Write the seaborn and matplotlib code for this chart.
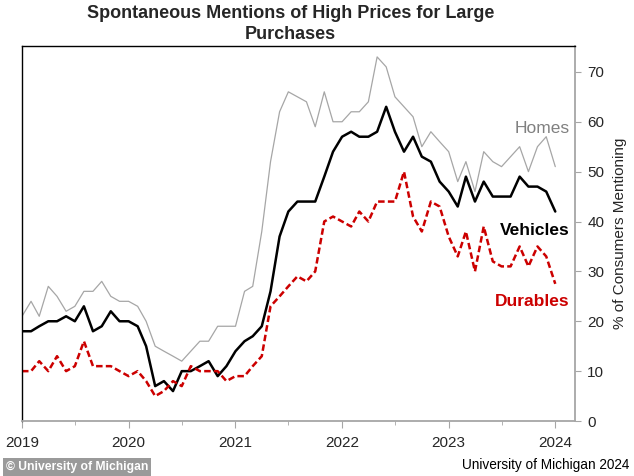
import pandas as pd
import matplotlib
matplotlib.use("Agg")
import matplotlib.pyplot as plt
import matplotlib.dates as mdates
import seaborn as sns

# === Data: monthly, Jan 2019 - Jan 2024 (% of consumers mentioning) ===
homes = [21, 24, 21, 27, 25, 22, 23, 26, 26, 28, 25, 24,
         24, 23, 20, 15, 14, 13, 12, 14, 16, 16, 19, 19,
         19, 26, 27, 38, 52, 62, 66, 65, 64, 59, 66, 60,
         60, 62, 62, 64, 73, 71, 65, 63, 61, 55, 58, 56,
         54, 48, 52, 46, 54, 52, 51, 53, 55, 50, 55, 57, 51]
vehicles = [18, 18, 19, 20, 20, 21, 20, 23, 18, 19, 22, 20,
            20, 19, 15, 7, 8, 6, 10, 10, 11, 12, 9, 11,
            14, 16, 17, 19, 26, 37, 42, 44, 44, 44, 49, 54,
            57, 58, 57, 57, 58, 63, 58, 54, 57, 53, 52, 48,
            46, 43, 49, 44, 48, 45, 45, 45, 49, 47, 47, 46, 42]
durables = [10, 10, 12, 10, 13, 10, 11, 16, 11, 11, 11, 10,
            9, 10, 8, 5, 6, 8, 7, 11, 10, 10, 10, 8,
            9, 9, 11, 13, 23, 25, 27, 29, 28, 30, 40, 41,
            40, 39, 42, 40, 44, 44, 44, 50, 41, 38, 44, 43,
            37, 33, 38, 30, 39, 32, 31, 31, 35, 31, 35, 33, 27.5]
months = pd.date_range("2019-01-01", periods=len(homes), freq="MS")
y_ticks = [0, 10, 20, 30, 40, 50, 60, 70]

df = pd.DataFrame({"month": months, "Homes": homes,
                   "Vehicles": vehicles, "Durables": durables})

# === Style ===
sns.set_style("white")
plt.rcParams["font.family"] = ["Liberation Sans", "DejaVu Sans"]

fig = plt.figure(figsize=(6.34, 4.76), dpi=100)
ax = fig.add_axes([0.0347, 0.1155, 0.872, 0.788])

sns.lineplot(data=df, x="month", y="Homes", ax=ax, color="#a6a6a6", lw=0.9)
sns.lineplot(data=df, x="month", y="Vehicles", ax=ax, color="black", lw=1.8)
sns.lineplot(data=df, x="month", y="Durables", ax=ax, color="#cc0000", lw=1.8,
             dashes=False, linestyle=(0, (2.6, 1.3)))

# === Axes ===
ax.set_xlim(pd.Timestamp("2019-01-01"), pd.Timestamp("2024-03-08"))
ax.set_ylim(0, 75.2)
ax.set_yticks(y_ticks)
ax.yaxis.tick_right()
ax.yaxis.set_label_position("right")
ax.set_ylabel("% of Consumers Mentioning", fontsize=11, labelpad=6)
ax.set_xlabel("")

ax.xaxis.set_major_locator(mdates.YearLocator())
ax.xaxis.set_major_formatter(mdates.DateFormatter("%Y"))
ax.xaxis.set_minor_locator(mdates.MonthLocator(bymonth=7))

ax.tick_params(axis="y", which="both", direction="out", length=4,
               color="#a6a6a6", labelsize=11, pad=5, right=True, left=False)
ax.tick_params(axis="x", which="major", direction="out", length=5,
               color="#a6a6a6", labelsize=11, pad=6, bottom=True)
ax.tick_params(axis="x", which="minor", direction="out", length=3,
               color="#a6a6a6", bottom=True)

for side in ["left", "top"]:
    ax.spines[side].set_color("black")
    ax.spines[side].set_linewidth(1.0)
for side in ["right", "bottom"]:
    ax.spines[side].set_color("#a6a6a6")
    ax.spines[side].set_linewidth(1.3)

# === Series labels ===
label_x = pd.Timestamp("2024-02-20")
ax.text(label_x, 58.7, "Homes", color="#808080", fontsize=12.5, ha="right", va="center")
ax.text(label_x, 38.1, "Vehicles", color="black", fontsize=12.5, fontweight="bold",
        ha="right", va="center")
ax.text(label_x, 24.0, "Durables", color="#cc0000", fontsize=12.5, fontweight="bold",
        ha="right", va="center")

# === Title and footer ===
ax.set_title("Spontaneous Mentions of High Prices for Large\nPurchases",
             fontsize=13, fontweight="bold", linespacing=1.3, pad=5, x=0.486)
fig.text(0.009, 0.006, "\u00a9 University of Michigan", color="white", fontsize=8.7,
         fontweight="bold", ha="left", va="bottom",
         bbox=dict(boxstyle="square,pad=0.25", fc="#9a9a9a", ec="none"))
fig.text(0.993, 0.008, "University of Michigan 2024", color="black", fontsize=9.8,
         ha="right", va="bottom")

fig.savefig("out.png", dpi=100)
